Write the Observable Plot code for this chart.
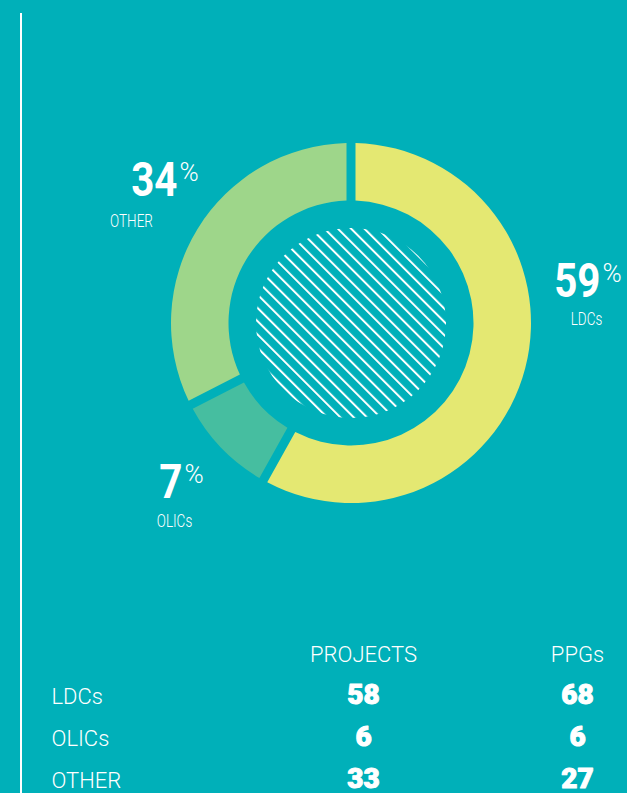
<!DOCTYPE html>
<html>
<head>
<meta charset="utf-8">
<script src="https://cdn.jsdelivr.net/npm/d3@7"></script>
<script src="https://cdn.jsdelivr.net/npm/@observablehq/plot@0.6"></script>
<style>
  html, body { margin: 0; padding: 0; background: #00b0b9; }
  body { width: 627px; height: 793px; overflow: hidden; position: relative; }
  #chart svg, #table svg { display: block; }
  #rule { position: absolute; left: 20px; top: 13px; width: 1.6px; height: 780px; background: #ffffff; }
</style>
</head>
<body>
<div id="chart"></div>
<div id="table"></div>
<div id="rule"></div>
<script>
// ---- data ----
const categories = ["LDCs", "OLICs", "OTHER"];
const shares = [59, 7, 34];               // labelled percentages
const arcShares = [58.1, 9.4, 32.5];      // slice sizes as drawn in the reference
const sliceColors = ["#e4e872", "#46bea0", "#9ed68a"];
const columns = ["PROJECTS", "PPGs"];
const projects = [58, 6, 33];
const ppgs = [68, 6, 27];

// ---- layout ----
const CX = 351, CY = 323, R = 180;
const INNER = 122.5 / 180, HATCH = 95 / 180, GAP = 9;
const FONT = "Roboto, 'Liberation Sans', sans-serif";
// label anchors in pixels (number right edge & baseline, category label centre & baseline)
const labelLayout = {
  LDCs:  { num: [600, 296], label: [586, 324] },
  OLICs: { num: [182, 497], label: [174, 526] },
  OTHER: { num: [177, 195], label: [131, 226] }
};
const ux = px => (px - CX) / R;
const uy = py => (CY - py) / R;

const slices = categories.map((c, i) => ({ category: c, share: shares[i], arc: arcShares[i], color: sliceColors[i] }));

function donutMark(index, scales) {
  const x0 = scales.x(0), y0 = scales.y(0), r = scales.x(1) - x0;
  const g = d3.create("svg:g").attr("transform", `translate(${x0},${y0})`);
  const defs = g.append("defs");
  const step = 9.4;
  const pat = defs.append("pattern")
    .attr("id", "hatch-pattern")
    .attr("patternUnits", "userSpaceOnUse")
    .attr("width", step).attr("height", step)
    .attr("patternTransform", "rotate(-45)");
  pat.append("rect").attr("x", 0).attr("y", 0).attr("width", 2).attr("height", step).attr("fill", "#ffffff");

  const padR = Math.sqrt(r * r + (r * INNER) ** 2);
  const arcs = d3.pie().sort(null).value(d => d.arc)(slices);
  const arc = d3.arc().innerRadius(r * INNER).outerRadius(r).padRadius(padR).padAngle(GAP / padR);
  g.selectAll("path.slice").data(arcs).join("path")
    .attr("class", "slice")
    .attr("d", arc)
    .attr("fill", d => d.data.color);
  g.append("circle").attr("r", r * HATCH).attr("fill", "url(#hatch-pattern)");
  return g.node();
}

const chart = Plot.plot({
  width: 627,
  height: 620,
  margin: 0,
  style: { background: "transparent", color: "#ffffff" },
  x: { domain: [-1, 1], range: [CX - R, CX + R], axis: null },
  y: { domain: [-1, 1], range: [CY + R, CY - R], axis: null },
  marks: [
    donutMark,
    Plot.text(slices, {
      x: d => ux(labelLayout[d.category].num[0]),
      y: d => uy(labelLayout[d.category].num[1]),
      text: d => String(d.share),
      textAnchor: "end", lineAnchor: "bottom",
      fill: "#ffffff", fontSize: 48, fontWeight: 700, fontFamily: FONT
    }),
    Plot.text(slices, {
      x: d => ux(labelLayout[d.category].num[0]),
      y: d => uy(labelLayout[d.category].num[1]),
      text: () => "%",
      textAnchor: "start", lineAnchor: "bottom", dx: 2, dy: -15,
      fill: "#ffffff", fontSize: 26, fontWeight: 300, fontFamily: FONT
    }),
    Plot.text(slices, {
      x: d => ux(labelLayout[d.category].label[0]),
      y: d => uy(labelLayout[d.category].label[1]),
      text: "category",
      textAnchor: "middle", lineAnchor: "bottom",
      fill: "#ffffff", fontSize: 19, fontWeight: 300, fontFamily: FONT
    })
  ]
});
// condense the donut labels horizontally (the reference uses a condensed face)
const condense = [0.84, 1, 0.71];
d3.select(chart).selectAll('g[aria-label="text"]').each(function (_, i) {
  const sx = condense[i];
  if (sx && sx !== 1) {
    d3.select(this).selectAll("text").attr("transform", function () {
      return (this.getAttribute("transform") || "") + ` scale(${sx},1)`;
    });
  }
});
document.getElementById("chart").append(chart);

// ---- table ----
const cells = categories.flatMap((c, i) => [
  { category: c, column: columns[0], value: projects[i] },
  { category: c, column: columns[1], value: ppgs[i] }
]);
const table = Plot.plot({
  width: 627,
  height: 173,
  margin: 0,
  style: { background: "transparent", color: "#ffffff" },
  x: { type: "point", domain: columns, range: [363, 577], padding: 0, axis: null },
  y: { type: "point", domain: ["header", ...categories], range: [40, 168], padding: 0, axis: null },
  marks: [
    Plot.text(columns, {
      x: d => d, y: () => "header", text: d => d,
      textAnchor: "middle", lineAnchor: "bottom",
      fill: "#ffffff", fontSize: 22, fontFamily: FONT, fontWeight: 300
    }),
    Plot.text(categories, {
      y: d => d, text: d => d, frameAnchor: "left", dx: 51,
      textAnchor: "start", lineAnchor: "bottom",
      fill: "#ffffff", fontSize: 22, fontFamily: FONT, fontWeight: 300
    }),
    Plot.text(cells, {
      x: "column", y: "category", text: d => String(d.value),
      textAnchor: "middle", lineAnchor: "bottom",
      fill: "#ffffff", stroke: "#ffffff", strokeWidth: 1,
      fontSize: 28, fontFamily: FONT, fontWeight: 900
    })
  ]
});
document.getElementById("table").append(table);
</script>
</body>
</html>
